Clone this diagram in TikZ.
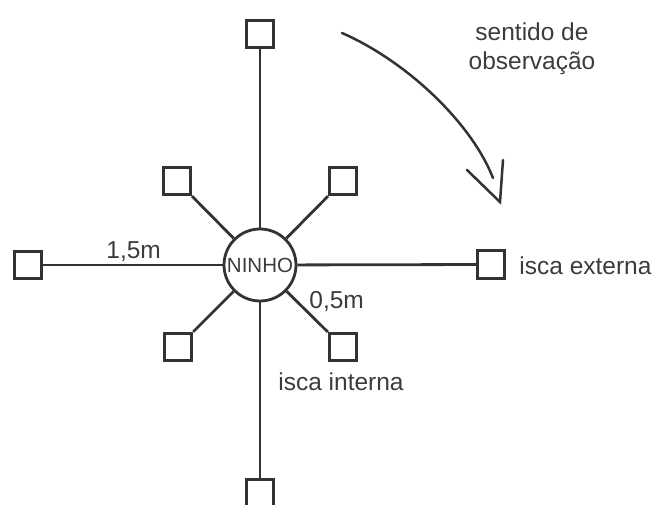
\documentclass[tikz,border=0pt]{standalone}
\usepackage{fontspec}
\setmainfont{Liberation Sans}
\definecolor{ink}{HTML}{333333}
\definecolor{txt}{HTML}{3C3C3C}
\begin{document}
\begin{tikzpicture}[x=1pt,y=-1pt,
  line width=2.8pt,
  bait/.style={draw=ink,fill=white,rectangle,minimum size=27.5pt,inner sep=0pt},
  nest/.style={draw=ink,fill=white,circle,minimum size=72pt,inner sep=0pt,font=\fontsize{20.5}{22}\selectfont,text=txt},
  lbl/.style={font=\fontsize{24.5}{29}\selectfont,text=txt,inner sep=0pt},
  link/.style={draw=ink}]
\useasboundingbox (0,0) rectangle (654,505);
\clip (0,0) rectangle (654,505);
% nodes
\node[bait] (top) at (260,34) {};
\node[bait] (bot) at (260,493) {};
\node[bait] (left) at (28,265) {};
\node[bait] (right) at (491,264.5) {};
\node[bait] (ul) at (177,181) {};
\node[bait] (ur) at (343,181) {};
\node[bait] (ll) at (178,347) {};
\node[bait] (lr) at (343,347) {};
\node[nest] (c) at (260,265) {};
% connectors
\draw[link] (c) -- (top);
\draw[link] (c) -- (bot);
\draw[link] (c) -- (left);
\draw[link] (c) -- (right);
\draw[link] (c) -- (ul);
\draw[link] (c) -- (ur);
\draw[link] (c) -- (ll);
\draw[link] (c) -- (lr);
\node[nest,draw=none,fill=none] (ctext) at (260,265) {NINHO};
% labels
\node[lbl,anchor=base west] (l15) at (105,259) {1,5m};
\node[lbl,anchor=base west] (l05) at (308,309) {0,5m};
\node[lbl,anchor=base] (li) at (341,391) {isca interna};
\node[lbl,anchor=base west] (le) at (518,275) {isca externa};
\node[lbl,align=center,anchor=base] (ls) at (532,70) {sentido de\\observação};
% rotation arrow
\coordinate (as) at (342,33);
\coordinate (ae) at (493,178);
\coordinate (tip) at (500,202);
\coordinate (w1) at (467,170);
\coordinate (w2) at (503,160);
\draw[ink,line width=2.5pt,line cap=round] (as) .. controls (406,61) and (471,122) .. (ae);
\draw[ink,line width=2.5pt,line cap=round,line join=miter] (w1) -- (tip) -- (w2);
\end{tikzpicture}
\end{document}
